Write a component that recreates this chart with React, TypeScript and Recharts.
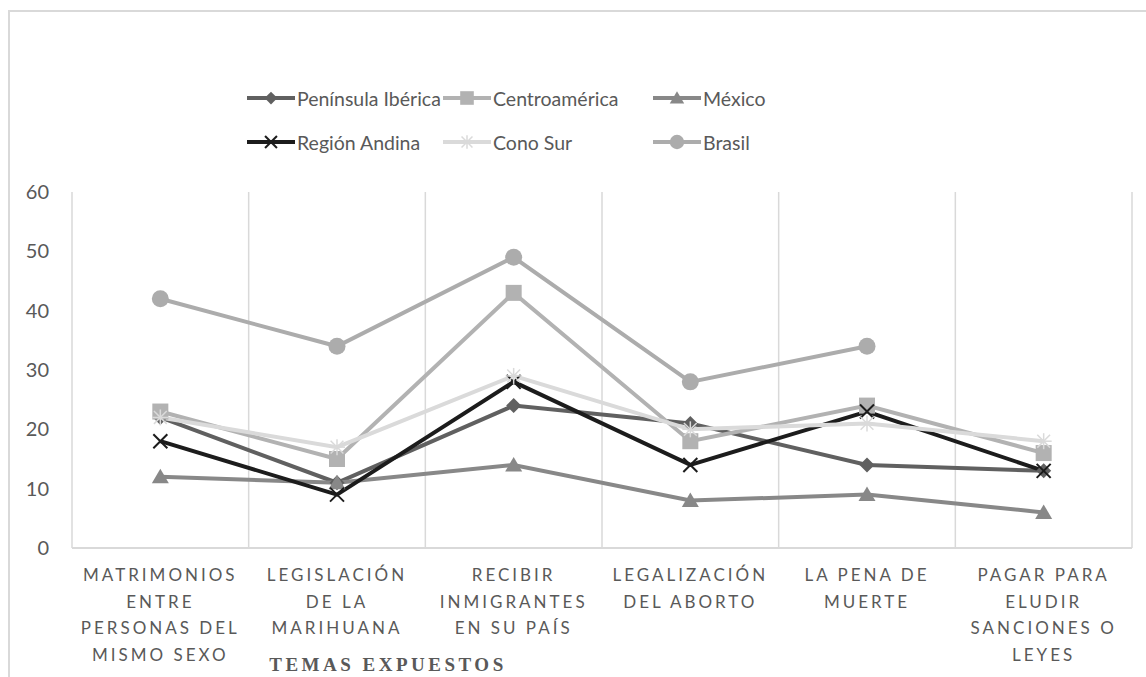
import React from 'react';
import { LineChart, Line, XAxis, YAxis, ReferenceLine } from 'recharts';

const categoryLines = [
  ['MATRIMONIOS', 'ENTRE', 'PERSONAS DEL', 'MISMO SEXO'],
  ['LEGISLACIÓN', 'DE LA', 'MARIHUANA'],
  ['RECIBIR', 'INMIGRANTES', 'EN SU PAÍS'],
  ['LEGALIZACIÓN', 'DEL ABORTO'],
  ['LA PENA DE', 'MUERTE'],
  ['PAGAR PARA', 'ELUDIR', 'SANCIONES O', 'LEYES'],
];

const peninsulaIberica = [22, 11, 24, 21, 14, 13];
const centroamerica = [23, 15, 43, 18, 24, 16];
const mexico = [12, 11, 14, 8, 9, 6];
const regionAndina = [18, 9, 28, 14, 23, 13];
const conoSur = [22, 17, 29, 20, 21, 18];
const brasil: (number | null)[] = [42, 34, 49, 28, 34, null];

const yTicks = [0, 10, 20, 30, 40, 50, 60];
const boundaries = [0, 1, 2, 3, 4, 5, 6];

const data = categoryLines.map((lines, i) => ({
  pos: i + 0.5,
  tema: lines.join(' '),
  peninsula: peninsulaIberica[i],
  centro: centroamerica[i],
  mexico: mexico[i],
  andina: regionAndina[i],
  conoSur: conoSur[i],
  brasil: brasil[i],
}));

type Shape = 'diamond' | 'square' | 'triangle' | 'x' | 'star' | 'circle';

const series: { key: string; name: string; color: string; shape: Shape }[] = [
  { key: 'peninsula', name: 'Península Ibérica', color: '#606060', shape: 'diamond' },
  { key: 'centro', name: 'Centroamérica', color: '#b2b2b2', shape: 'square' },
  { key: 'mexico', name: 'México', color: '#888888', shape: 'triangle' },
  { key: 'andina', name: 'Región Andina', color: '#1c1c1c', shape: 'x' },
  { key: 'conoSur', name: 'Cono Sur', color: '#dadada', shape: 'star' },
  { key: 'brasil', name: 'Brasil', color: '#acacac', shape: 'circle' },
];

const TEXT = '#595959';
const GRID = '#d9d9d9';
const FONT = 'Lato, "Open Sans", sans-serif';

function Marker({ cx, cy, shape, color, s = 1 }: { cx: number; cy: number; shape: Shape; color: string; s?: number }) {
  switch (shape) {
    case 'diamond': {
      const r = 7.5 * s;
      return <polygon points={`${cx},${cy - r} ${cx + r},${cy} ${cx},${cy + r} ${cx - r},${cy}`} fill={color} />;
    }
    case 'square': {
      const r = 8 * s;
      return <rect x={cx - r} y={cy - r} width={2 * r} height={2 * r} fill={color} />;
    }
    case 'triangle': {
      const w = 8.5 * s;
      return <polygon points={`${cx},${cy - 8 * s} ${cx + w},${cy + 6.5 * s} ${cx - w},${cy + 6.5 * s}`} fill={color} />;
    }
    case 'x': {
      const r = 7 * s;
      return (
        <g stroke={color} strokeWidth={2}>
          <line x1={cx - r} y1={cy - r} x2={cx + r} y2={cy + r} />
          <line x1={cx - r} y1={cy + r} x2={cx + r} y2={cy - r} />
        </g>
      );
    }
    case 'star': {
      const r = 8 * s;
      const d = r * 0.8;
      return (
        <g stroke={color} strokeWidth={1.5}>
          <line x1={cx - r} y1={cy} x2={cx + r} y2={cy} />
          <line x1={cx} y1={cy - r} x2={cx} y2={cy + r} />
          <line x1={cx - d} y1={cy - d} x2={cx + d} y2={cy + d} />
          <line x1={cx - d} y1={cy + d} x2={cx + d} y2={cy - d} />
        </g>
      );
    }
    default:
      return <circle cx={cx} cy={cy} r={8.5 * s} fill={color} />;
  }
}

const makeDot = (shape: Shape, color: string) => (props: any) => {
  const { cx, cy, index } = props;
  if (cx == null || cy == null || props.value == null) return <g key={`d-${index}`} />;
  return (
    <g key={`d-${index}`}>
      <Marker cx={cx} cy={cy} shape={shape} color={color} />
    </g>
  );
};

function CategoryTick(props: any) {
  const { x, y, payload } = props;
  const idx = Math.floor(payload.value);
  const lines = categoryLines[idx] || [];
  return (
    <text
      x={x}
      y={y}
      textAnchor="middle"
      fill={TEXT}
      fontFamily={FONT}
      fontSize={17}
      letterSpacing={3}
    >
      {lines.map((l, i) => (
        <tspan key={i} x={x} y={y + 33 + i * 26.5}>
          {l}
        </tspan>
      ))}
    </text>
  );
}

const legendCols = [236, 432, 642];
const legendRows = [86, 130];

function ChartLegend() {
  return (
    <>
      {series.map((s, i) => (
        <div
          key={s.key}
          style={{
            position: 'absolute',
            left: legendCols[i % 3],
            top: legendRows[Math.floor(i / 3)] - 12,
            height: 24,
            display: 'flex',
            alignItems: 'center',
            fontFamily: FONT,
            fontSize: 19.5,
            color: TEXT,
            whiteSpace: 'nowrap',
          }}
        >
          <svg width={50} height={24} style={{ marginRight: 1 }}>
            <line x1={1} y1={12} x2={49} y2={12} stroke={s.color} strokeWidth={4} />
            <Marker cx={25} cy={12} shape={s.shape} color={s.color} s={0.85} />
          </svg>
          <span>{s.name}</span>
        </div>
      ))}
    </>
  );
}

export default function App() {
  return (
    <div
      style={{
        position: 'absolute',
        left: 8,
        top: 10,
        width: 1138,
        height: 667,
        boxSizing: 'border-box',
        borderTop: `2px solid ${GRID}`,
        borderLeft: `2px solid ${GRID}`,
        overflow: 'hidden',
        background: '#fff',
      }}
    >
      <ChartLegend />
      <LineChart
        width={1136}
        height={665}
        data={data}
        margin={{ top: 180, right: 14, bottom: 19, left: 0 }}
      >
        {boundaries.map((b) => (
          <ReferenceLine key={b} x={b} stroke={GRID} strokeWidth={1.5} />
        ))}
        <XAxis
          type="number"
          dataKey="pos"
          domain={[0, 6]}
          ticks={[0.5, 1.5, 2.5, 3.5, 4.5, 5.5]}
          interval={0}
          height={110}
          tickSize={0}
          tickMargin={0}
          tickLine={false}
          axisLine={{ stroke: GRID, strokeWidth: 2 }}
          tick={<CategoryTick />}
        />
        <YAxis
          domain={[0, 60]}
          ticks={yTicks}
          width={62}
          tickSize={0}
          tickMargin={23}
          tickLine={false}
          axisLine={false}
          tick={{ fill: TEXT, fontSize: 20, fontFamily: FONT }}
        />
        {series.map((s) => (
          <Line
            key={s.key}
            type="linear"
            dataKey={s.key}
            name={s.name}
            stroke={s.color}
            strokeWidth={4}
            dot={makeDot(s.shape, s.color)}
            activeDot={false}
            isAnimationActive={false}
            connectNulls={false}
          />
        ))}
      </LineChart>
      <div
        style={{
          position: 'absolute',
          left: 228,
          width: 300,
          top: 642,
          lineHeight: '22px',
          textAlign: 'center',
          fontFamily: '"Liberation Serif", "DejaVu Serif", serif',
          fontWeight: 'bold',
          fontSize: 19,
          letterSpacing: 3.5,
          color: TEXT,
        }}
      >
        TEMAS EXPUESTOS
      </div>
    </div>
  );
}
